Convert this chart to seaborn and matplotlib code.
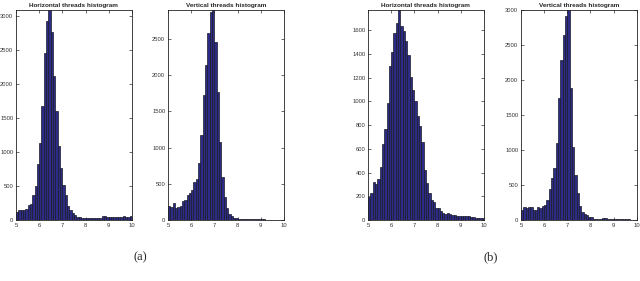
from matplotlib import pyplot as plt
import numpy as np
import pandas as pd
import seaborn as sns

# bin centres of the histograms (50 bins of 0.1, 5..10)
centers = np.round(np.arange(5.05, 10.0, 0.1), 2)

horiz_a = [120, 150, 150, 140, 160, 220, 240, 370, 500, 820,
           1130, 1670, 2450, 2920, 3080, 2760, 2120, 1600, 1080, 760,
           520, 360, 210, 150, 100, 70, 50, 40, 35, 30,
           30, 35, 30, 30, 35, 35, 30, 60, 55, 45,
           45, 45, 45, 40, 45, 45, 60, 45, 40, 60]
vert_a = [190, 180, 230, 170, 180, 200, 260, 280, 350, 370,
          410, 520, 560, 790, 1170, 1730, 2140, 2580, 2870, 2900,
          2460, 1770, 1080, 590, 320, 170, 90, 60, 30, 25,
          20, 20, 15, 15, 15, 12, 10, 10, 10, 8,
          10, 8, 6, 5, 5, 5, 4, 3, 3, 3]
horiz_b = [190, 230, 320, 300, 350, 450, 640, 770, 990, 1300,
           1420, 1580, 1660, 1770, 1640, 1590, 1510, 1390, 1210, 1100,
           1000, 880, 790, 660, 420, 310, 225, 170, 155, 100,
           100, 80, 60, 50, 60, 55, 45, 40, 30, 35,
           30, 35, 30, 30, 25, 25, 20, 20, 15, 15]
vert_b = [150, 180, 170, 180, 190, 140, 150, 190, 170, 200,
          220, 290, 440, 600, 740, 1100, 1750, 2280, 2640, 2910,
          3000, 1890, 1040, 640, 380, 200, 110, 80, 70, 50,
          40, 20, 15, 15, 20, 25, 25, 20, 20, 15,
          15, 15, 10, 8, 8, 10, 10, 5, 5, 5]

titles = ["Horizontal threads histogram", "Vertical threads histogram",
          "Horizontal threads histogram", "Vertical threads histogram"]
series = [horiz_a, vert_a, horiz_b, vert_b]
yticks = [np.arange(0, 3001, 500), np.arange(0, 2501, 500),
          np.arange(0, 1601, 200), np.arange(0, 3001, 500)]
lefts = [0.025, 0.2625, 0.575, 0.814]

sns.set_style("ticks")
plt.rcParams['font.family'] = ['Liberation Sans', 'DejaVu Sans']

fig = plt.figure(figsize=(6.4, 2.81), dpi=100)
for left, counts, title, yt in zip(lefts, series, titles, yticks):
    df = pd.DataFrame({'value': centers, 'count': counts})
    ax = fig.add_axes([left, 0.217, 0.181, 0.747])
    sns.histplot(data=df, x='value', weights='count', binwidth=0.1,
                 binrange=(5, 10), ax=ax, color='#2c2c86',
                 edgecolor='#1a1a26', linewidth=0.5, alpha=1)
    ax.set_xlim(5, 10)
    ax.set_ylim(0, max(counts))
    ax.set_xticks([5, 6, 7, 8, 9, 10])
    ax.set_yticks(yt)
    ax.set_ylabel('')
    ax.set_xlabel('')
    ax.tick_params(direction='in', length=2, width=0.5, labelsize=4.2,
                   top=True, right=True, pad=2, colors='#333333')
    for s in ax.spines.values():
        s.set_linewidth(0.6)
        s.set_color('#222222')
    ax.set_title(title, fontsize=4.6, fontweight='bold', pad=2)

fig.text(0.219, 0.075, '(a)', fontsize=9, family='Liberation Serif', ha='center')
fig.text(0.766, 0.075, '(b)', fontsize=9, family='Liberation Serif', ha='center')

fig.savefig('out.png', dpi=100)
